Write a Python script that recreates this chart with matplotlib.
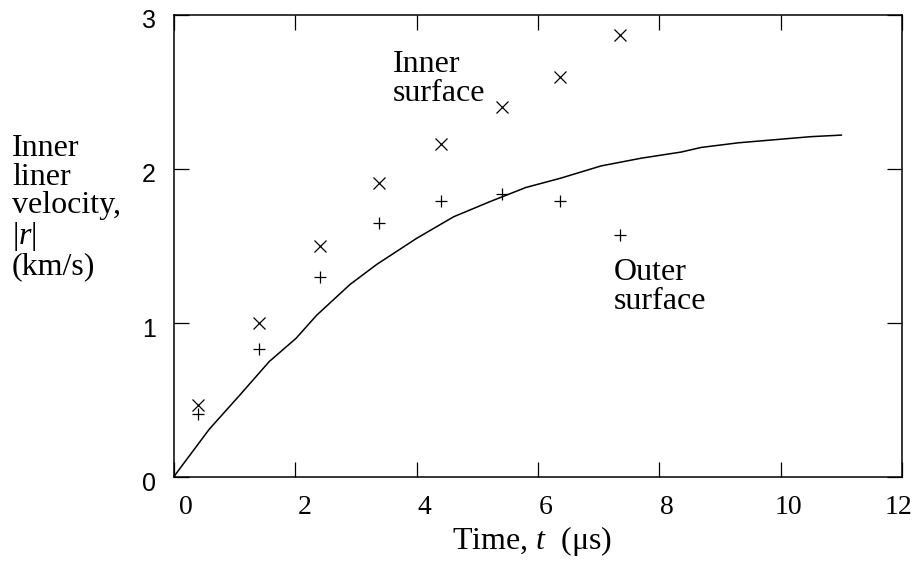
import matplotlib
matplotlib.use("Agg")
import matplotlib.pyplot as plt
import matplotlib.transforms as mtransforms

# readings from the figure
pulse_t = [0.39, 1.40, 2.40, 3.38, 4.40, 5.40, 6.36, 7.35]
inner_v = [0.47, 1.00, 1.50, 1.91, 2.16, 2.40, 2.60, 2.87]
outer_v = [0.41, 0.83, 1.30, 1.65, 1.79, 1.84, 1.79, 1.57]

calc_t = [0.0, 0.03, 0.58, 1.08, 1.57, 2.01, 2.35, 2.90, 3.34, 4.00, 4.61, 5.22,
          5.80, 6.37, 7.04, 7.70, 8.36, 8.69, 9.30, 9.90, 10.5, 11.0]
calc_v = [0.0, 0.02, 0.31, 0.53, 0.75, 0.90, 1.05, 1.25, 1.38, 1.55, 1.69, 1.79,
          1.88, 1.94, 2.02, 2.07, 2.11, 2.14, 2.17, 2.19, 2.21, 2.22]

xticks = [0, 2, 4, 6, 8, 10, 12]
yticks = [0, 1, 2, 3]
xlabel_shift = [0.12, 0.09, 0.08, 0.08, 0.08, 0.08, -0.04]

plt.rcParams['font.family'] = ['Liberation Serif', 'DejaVu Serif']
plt.rcParams['mathtext.fontset'] = 'custom'
plt.rcParams['mathtext.rm'] = 'Liberation Serif'
plt.rcParams['mathtext.it'] = 'Liberation Serif:italic'

fig = plt.figure(figsize=(9.14, 5.61), dpi=100)
ax = fig.add_axes([0.1904, 0.1497, 0.7965, 0.8236])

ax.plot(calc_t, calc_v, color='black', lw=1.1)
ax.plot(pulse_t, inner_v, ls='none', marker='x', ms=8, mew=0.9, color='black')
ax.plot(pulse_t, outer_v, ls='none', marker='+', ms=9, mew=0.9, color='black')

ax.set_xlim(0, 12)
ax.set_ylim(0, 3)
ax.set_xticks(xticks)
ax.set_yticks(yticks)
ax.tick_params(direction='in', length=11, width=0.9, top=True, right=True, pad=13)
for lab, dx in zip(ax.get_xticklabels(), xlabel_shift):
    lab.set_fontsize(20)
    lab.set_transform(lab.get_transform() + mtransforms.ScaledTranslation(dx, 0, fig.dpi_scale_trans))
for lab in ax.get_yticklabels():
    lab.set_fontsize(18)
    lab.set_family('Liberation Sans')
    lab.set_transform(lab.get_transform() + mtransforms.ScaledTranslation(0, -0.04, fig.dpi_scale_trans))
for s in ax.spines.values():
    s.set_linewidth(1.1)

ax.text(3.61, 2.77, 'Inner\nsurface', fontsize=23, va='top', ha='left', linespacing=1.0)
ax.text(7.25, 1.42, 'Outer\nsurface', fontsize=23, va='top', ha='left', linespacing=1.0)

fig.text(12 / 914, 1 - 134 / 561, 'Inner\nliner\nvelocity,\n$|\\mathit{r}|$\n(km/s)',
         fontsize=23, va='top', ha='left', linespacing=0.98)
fig.text(532 / 914, 1 - 541 / 561, 'Time, $\\mathit{t}$  (\u03bcs)', fontsize=23,
         va='center', ha='center')

fig.savefig('out.png', dpi=100)
